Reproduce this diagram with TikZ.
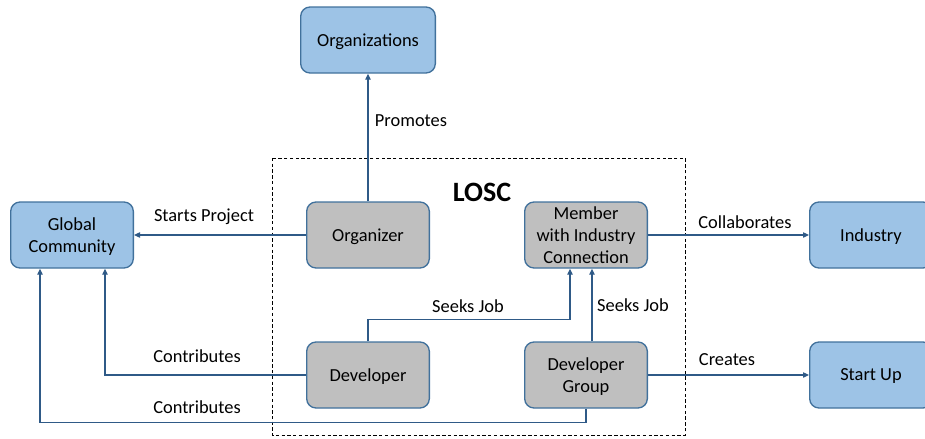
\documentclass[tikz,border=0pt]{standalone}
\usepackage{fontspec}
\setmainfont{Carlito}
\usetikzlibrary{arrows.meta}
\definecolor{boxblue}{HTML}{9DC3E6}
\definecolor{boxgray}{HTML}{BFBFBF}
\definecolor{boxline}{HTML}{41719C}
\definecolor{linkblue}{HTML}{2F5A87}
\tikzset{
  outer/.style={draw=boxline, line width=1pt, fill=boxblue, rounded corners=7pt,
    minimum width=92pt, minimum height=49.5pt, align=center, text depth=0pt},
  inner/.style={outer, fill=boxgray},
  link/.style={draw=linkblue, line width=0.9pt, -{Triangle[length=4.5pt,width=4pt]}},
  lbl/.style={inner sep=0pt}
}
\begin{document}
\begin{tikzpicture}[x=0.75pt, y=-0.75pt, font=\fontsize{13.8pt}{16.5pt}\selectfont]
    \clip (0,0) rectangle (925,439);
    \draw[dash pattern=on 2.5pt off 1.8pt, line width=0.7pt] (272,158) rectangle (685,435);
    \node[font=\fontsize{21pt}{24pt}\selectfont\bfseries] (losc) at (482,192) {LOSC};
    \node[outer, minimum width=101pt] (orgs) at (368,40) {Organizations};
    \node[outer] (glob) at (72,235) {Global\\Community};
    \node[outer] (ind) at (871,235) {Industry};
    \node[outer] (sup) at (871,375) {Start Up};
    \node[inner] (org) at (368,235) {Organizer};
    \node[inner] (mem) at (586,235) {Member\\with Industry\\Connection};
    \node[inner] (dev) at (368,375) {Developer};
    \node[inner] (grp) at (586,375) {Developer\\Group};
    \draw[link] (org) -- (orgs);
    \draw[link] (org.west) -- (glob.east);
    \draw[link] (mem.east) -- (ind.west);
    \draw[link] (grp.east) -- (sup.west);
    \draw[link] (dev.north) -- ++(0,-22) -| ([xshift=-12pt]mem.south);
    \draw[link] ([xshift=4.5pt]grp.north) -- ([xshift=4.5pt]mem.south);
    \draw[link] (dev.west) -| ([xshift=24.75pt]glob.south);
    \draw[link] (grp.south) -- ++(0,14) -| ([xshift=-24pt]glob.south);
    \node[lbl] (pro) at (411,121) {Promotes};
    \node[lbl] (sta) at (204,217) {Starts Project};
    \node[lbl] (col) at (745,222) {Collaborates};
    \node[lbl] (cre) at (727,360) {Creates};
    \node[lbl] (sj1) at (468,306) {Seeks Job};
    \node[lbl] (sj2) at (633,305) {Seeks Job};
    \node[lbl] (con1) at (197,356) {Contributes};
    \node[lbl] (con2) at (197,407) {Contributes};
\end{tikzpicture}
\end{document}
